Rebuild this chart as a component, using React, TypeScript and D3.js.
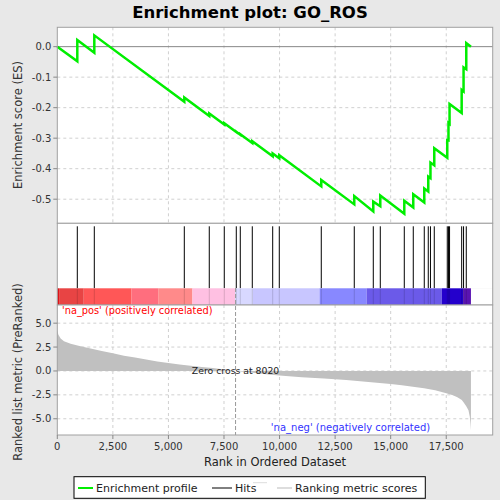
import React from "react";
import * as d3 from "d3";

const TITLE = "Enrichment plot: GO_ROS";
const TOTAL = 18611;
const ZERO_CROSS = 8020;

// hit ranks
const hitRanks = [900, 1665, 5714, 6838, 7513, 8053, 8233, 8773, 9691, 9988, 11877, 13362, 14217, 14532, 15612, 16016, 16511, 16691, 16790, 16961, 17546, 17600, 17649, 18194, 18279, 18401];
// ES just before each hit
const esBefore = [-0.048, -0.020, -0.181, -0.2275, -0.255, -0.280, -0.289, -0.316, -0.359, -0.366, -0.458, -0.517, -0.540, -0.523, -0.548, -0.527, -0.511, -0.475, -0.431, -0.389, -0.364, -0.307, -0.253, -0.2175, -0.147, -0.074];
// ES just after each hit
const esAfter = [0.022, 0.037, -0.167, -0.219, -0.251, -0.279, -0.287, -0.310, -0.350, -0.356, -0.437, -0.490, -0.508, -0.488, -0.505, -0.484, -0.465, -0.426, -0.380, -0.333, -0.306, -0.250, -0.188, -0.142, -0.068, 0.012];

// ranking metric read at ranks
const metricRanks = [0, 50, 150, 300, 600, 1000, 1500, 2000, 2500, 3000, 3500, 4000, 4500, 5000, 5500, 6000, 6500, 7000, 7500, 8020, 8500, 9000, 9500, 10000, 11000, 12000, 12500, 13000, 14000, 15000, 15500, 16000, 16500, 17000, 17500, 17800, 18000, 18200, 18300, 18400, 18500, 18560, 18590, 18611];
const metricValues = [4.2, 3.8, 3.4, 3.1, 2.85, 2.6, 2.35, 2.1, 1.85, 1.6, 1.4, 1.2, 1.0, 0.82, 0.68, 0.55, 0.42, 0.3, 0.15, 0, -0.12, -0.25, -0.37, -0.48, -0.65, -0.8, -0.87, -0.95, -1.15, -1.36, -1.5, -1.65, -1.8, -2.02, -2.33, -2.55, -2.75, -3.05, -3.35, -3.7, -4.1, -4.8, -5.5, -6.2];

// colour bar segments (rank starts)
const barStarts = [0, 80, 1190, 3340, 4540, 6080, 8000, 8800, 11800, 13920, 17300, 18260];
const barColors = ["#dc1418", "#e84444", "#ff5757", "#ff6e7e", "#ff8a8a", "#ffc0e2", "#d8d8ff", "#c8c6ff", "#8888ff", "#6b5ae9", "#2400cc", "#5a14b2"];

const esTicks = [0.0, -0.1, -0.2, -0.3, -0.4, -0.5];
const metricTicks = [5.0, 2.5, 0.0, -2.5, -5.0];
const rankTicks = [0, 2500, 5000, 7500, 10000, 12500, 15000, 17500];

const FONT = "DejaVu Sans, sans-serif";

export default function App() {
  const L = 57.3, R = 492.7;
  const topT = 27.3, topB = 223.3;
  const hitB = 288.3, barB = 305;
  const botB = 435;

  const x = d3.scaleLinear().domain([0, 19590]).range([L, R]);
  const yES = d3.scaleLinear().domain([0.0634, -0.579]).range([topT, topB]);
  const yM = d3.scaleLinear().domain([6.9, -6.7]).range([hitB + 16.7, botB]);

  const esPts: [number, number][] = [[0, 0]];
  hitRanks.forEach((r, i) => {
    esPts.push([r, esBefore[i]]);
    esPts.push([r, esAfter[i]]);
  });
  esPts.push([TOTAL, 0]);
  const esLine = d3.line<[number, number]>().x(d => x(d[0])).y(d => yES(d[1]));

  const metricPts = metricRanks.map((r, i) => [r, metricValues[i]] as [number, number]);
  const area = d3.area<[number, number]>().x(d => x(d[0])).y0(yM(0)).y1(d => yM(d[1]));

  const fmt = d3.format(",");
  const grid = "#d0d0d0";

  return (
    <svg width={500} height={500} style={{ position: "absolute", left: 0, top: 0, fontFamily: FONT }}>
      <rect x={0} y={0} width={500} height={500} fill="#e8e8e8" />
      <text x={250} y={18} textAnchor="middle" fontSize={16.5} fontWeight="bold" fill="#000">{TITLE}</text>

      {/* top panel */}
      <rect x={L} y={topT} width={R - L} height={topB - topT} fill="#fff" />
      {rankTicks.slice(1).map(t => (
        <line key={"gv" + t} x1={x(t)} x2={x(t)} y1={topT} y2={topB} stroke={grid} strokeDasharray="3,3" />
      ))}
      {esTicks.map(t => (
        <line key={"gh" + t} x1={L} x2={R} y1={yES(t)} y2={yES(t)} stroke={t === 0 ? "#888" : grid} strokeDasharray={t === 0 ? undefined : "3,3"} />
      ))}
      <path d={esLine(esPts) || ""} fill="none" stroke="#00ee00" strokeWidth={2.5} />
      <rect x={L} y={topT} width={R - L} height={topB - topT} fill="none" stroke="#a0a0a0" />
      {esTicks.map(t => (
        <g key={"et" + t}>
          <line x1={L - 4} x2={L} y1={yES(t)} y2={yES(t)} stroke="#888" />
          <text x={L - 6} y={yES(t) + 3.5} textAnchor="end" fontSize={10} fill="#333">{t.toFixed(1)}</text>
        </g>
      ))}
      <text transform={`translate(22,125) rotate(-90)`} textAnchor="middle" fontSize={11.5} fill="#333">Enrichment score (ES)</text>

      {/* hits panel */}
      <rect x={L} y={topB} width={R - L} height={hitB - topB} fill="#fff" />
      {hitRanks.map((r, i) => (
        <line key={"h" + i} x1={x(r)} x2={x(r)} y1={topB + 3} y2={hitB} stroke="#000" strokeWidth={1} />
      ))}

      {/* colour bar */}
      <rect x={L} y={hitB} width={R - L} height={barB - hitB} fill="#fff" />
      {barStarts.map((s, i) => {
        const e = i + 1 < barStarts.length ? barStarts[i + 1] : TOTAL;
        return <rect key={"b" + i} x={x(s)} y={hitB} width={x(e) - x(s)} height={barB - hitB} fill={barColors[i]} />;
      })}
      {hitRanks.map((r, i) => (
        <line key={"hb" + i} x1={x(r)} x2={x(r)} y1={hitB} y2={barB} stroke="#000" strokeOpacity={0.15} />
      ))}
      <rect x={L} y={topB} width={R - L} height={barB - topB} fill="none" stroke="#a0a0a0" />

      {/* bottom panel */}
      <rect x={L} y={barB} width={R - L} height={botB - barB} fill="#fff" />
      {rankTicks.slice(1).map(t => (
        <line key={"bv" + t} x1={x(t)} x2={x(t)} y1={barB} y2={botB} stroke={grid} strokeDasharray="3,3" />
      ))}
      {metricTicks.map(t => (
        <line key={"bh" + t} x1={L} x2={R} y1={yM(t)} y2={yM(t)} stroke={grid} strokeDasharray="3,3" />
      ))}
      <path d={area(metricPts) || ""} fill="#c0c0c0" stroke="none" />
      <line x1={x(ZERO_CROSS)} x2={x(ZERO_CROSS)} y1={barB - 17} y2={botB} stroke="#999" strokeDasharray="4,2" />
      <rect x={L} y={barB} width={R - L} height={botB - barB} fill="none" stroke="#a0a0a0" />
      <text x={62} y={314} fontSize={9.8} fill="#ff0000">'na_pos' (positively correlated)</text>
      <text x={x(ZERO_CROSS)} y={374} textAnchor="middle" fontSize={9.3} fill="#222">Zero cross at 8020</text>
      <text x={350.5} y={431} textAnchor="middle" fontSize={10} fill="#3333ff">'na_neg' (negatively correlated)</text>
      {metricTicks.map(t => (
        <g key={"mt" + t}>
          <line x1={L - 4} x2={L} y1={yM(t)} y2={yM(t)} stroke="#888" />
          <text x={L - 6} y={yM(t) + 3.5} textAnchor="end" fontSize={10} fill="#333">{t.toFixed(1)}</text>
        </g>
      ))}
      {rankTicks.map(t => (
        <g key={"rt" + t}>
          <line x1={x(t)} x2={x(t)} y1={botB} y2={botB + 4} stroke="#888" />
          <text x={x(t)} y={450} textAnchor="middle" fontSize={10} fill="#333">{fmt(t)}</text>
        </g>
      ))}
      <text x={275} y={466} textAnchor="middle" fontSize={11.5} fill="#222">Rank in Ordered Dataset</text>
      <text transform={`translate(22,372) rotate(-90)`} textAnchor="middle" fontSize={11.5} fill="#333">Ranked list metric (PreRanked)</text>

      {/* legend */}
      <rect x={74} y={476.7} width={351.3} height={21.6} fill="#fff" stroke="#000" />
      <line x1={78} x2={93} y1={488} y2={488} stroke="#00ee00" strokeWidth={2} />
      <text x={96} y={492} fontSize={11} fill="#222">Enrichment profile</text>
      <line x1={212} x2={232} y1={488} y2={488} stroke="#000" />
      <text x={235} y={492} fontSize={11} fill="#222">Hits</text>
      <line x1={253} x2={267} y1={482.7} y2={482.7} stroke="#ddd" />
      <line x1={277} x2={292} y1={488} y2={488} stroke="#bbb" />
      <text x={295} y={492} fontSize={11} fill="#222">Ranking metric scores</text>
    </svg>
  );
}
